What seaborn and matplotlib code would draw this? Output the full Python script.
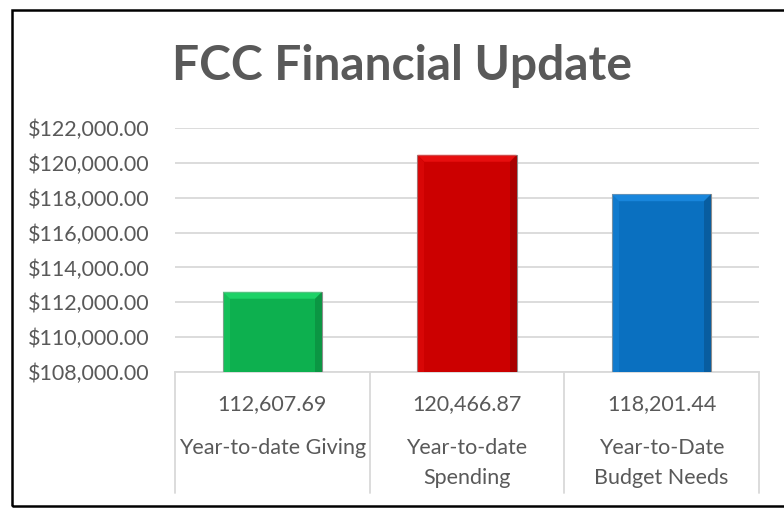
import matplotlib.pyplot as plt
import matplotlib.transforms as mtransforms
import seaborn as sns
import pandas as pd
from matplotlib.patches import Polygon, Rectangle
from matplotlib.ticker import FuncFormatter

# ---- data ----
categories = ["Year-to-date Giving", "Year-to-date\nSpending", "Year-to-Date\nBudget Needs"]
amounts = [112607.69, 120466.87, 118201.44]
bar_colors = ["#0DB04F", "#CC0000", "#0A70C0"]
y_ticks = [108000, 110000, 112000, 114000, 116000, 118000, 120000, 122000]
title = "FCC Financial Update"

df = pd.DataFrame({"Category": categories, "Amount": amounts})

sns.set_theme(style="white")
plt.rcParams['font.family'] = ['Lato', 'DejaVu Sans']
TXT = '#595959'
GRID = '#D9D9D9'

W, H = 784, 508
fig = plt.figure(figsize=(W / 100, H / 100), dpi=100)
ax = fig.add_axes([175 / W, (H - 372) / H, (759 - 175) / W, (372 - 128) / H])

sns.barplot(data=df, x="Category", y="Amount", hue="Category", palette=bar_colors,
            width=0.51, saturation=1, legend=False, edgecolor='#8C8C8C', linewidth=0.8,
            ax=ax, zorder=3)

ax.set_xlim(-0.5, len(categories) - 0.5)
ax.set_ylim(y_ticks[0], y_ticks[-1])
ax.set_yticks(y_ticks)
ax.yaxis.set_major_formatter(FuncFormatter(lambda v, p: f"${v:,.2f}"))
ax.yaxis.grid(True, color=GRID, lw=1.3, zorder=0)
ax.set_axisbelow(True)
for s in ['top', 'left', 'right']:
    ax.spines[s].set_visible(False)
ax.spines['bottom'].set_color(GRID)
ax.spines['bottom'].set_linewidth(1.3)
ax.tick_params(axis='y', left=False, pad=12, labelsize=15.5, labelcolor=TXT)
ax.tick_params(axis='x', bottom=False, labelbottom=False)
ax.set_xlabel("")
ax.set_ylabel("")

# bevel look on each bar (derived from the drawn patch geometry)
px_x = 3 / (759 - 175)
px_y = (y_ticks[-1] - y_ticks[0]) / (372 - 128)
bev = 7
for patch, col in zip(ax.patches, bar_colors):
    x0, w, h = patch.get_x(), patch.get_width(), patch.get_height()
    x1, y0, y1 = x0 + w, y_ticks[0], h
    dx, dy = bev * px_x, bev * px_y
    light = sns.set_hls_values(col, l=0.55)
    dark = sns.set_hls_values(col, l=0.25)
    top = Polygon([(x0, y1), (x1, y1), (x1 - dx, y1 - dy), (x0 + dx, y1 - dy)],
                  closed=True, fc=light, ec='none', alpha=0.55, zorder=4)
    right = Polygon([(x1, y1), (x1, y0), (x1 - dx, y0), (x1 - dx, y1 - dy)],
                    closed=True, fc=dark, ec='none', alpha=0.45, zorder=4)
    left = Polygon([(x0, y1), (x0, y0), (x0 + dx, y0), (x0 + dx, y1 - dy)],
                   closed=True, fc=light, ec='none', alpha=0.25, zorder=4)
    for poly in (top, right, left):
        ax.add_patch(poly)

# table-like category axis below the plot
trans = mtransforms.blended_transform_factory(ax.transData, ax.transAxes)
for b in [-0.5, 0.5, 1.5, 2.5]:
    ax.plot([b, b], [0, -(493 - 372) / (372 - 128)], transform=trans,
            color=GRID, lw=1.3, clip_on=False)
for i, (cat, val) in enumerate(zip(categories, amounts)):
    ax.text(i, -(404 - 372) / (372 - 128), f"{val:,.2f}", transform=trans,
            ha='center', va='center', fontsize=15.5, color=TXT)
    ax.text(i, -(438 - 372) / (372 - 128), cat, transform=trans, ha='center',
            va='top', fontsize=15.5, color=TXT, linespacing=1.6)

fig.text(402 / W, (H - 80) / H, title, ha='center', va='baseline',
         fontsize=34.5, fontweight='bold', color=TXT)

fig.add_artist(Rectangle((12 / W, 2 / H), (790 - 12) / W, (498 - 2) / H,
                         transform=fig.transFigure, fill=False, ec='black', lw=1.8))

fig.savefig("out.png", dpi=100)
